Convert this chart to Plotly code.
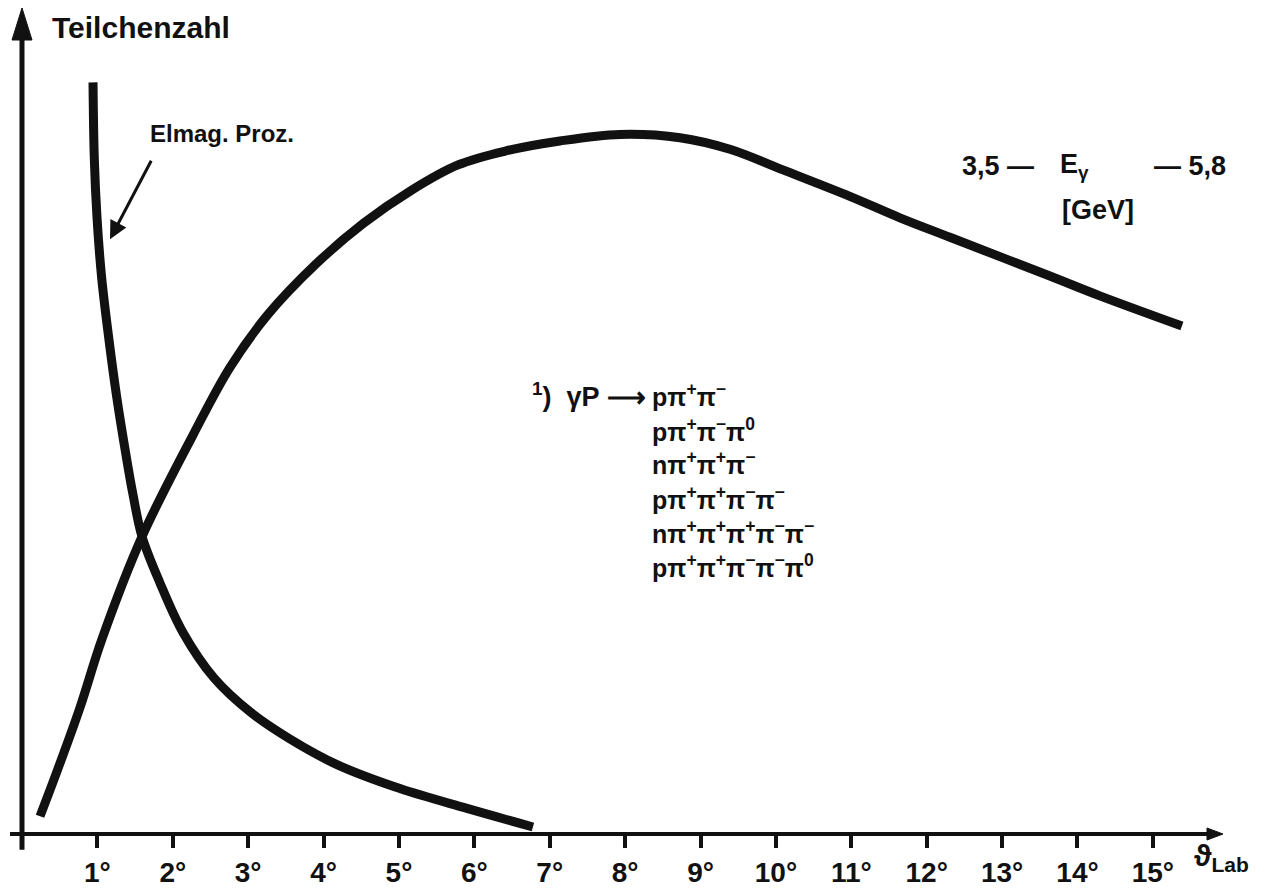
import plotly.graph_objects as go

# ---- data ----
elmag_deg = [0.942, 0.959, 0.995, 1.055, 1.147, 1.253, 1.379, 1.472, 1.592, 1.830, 2.135,
             2.546, 3.037, 3.554, 4.178, 5.013, 5.902, 6.777]
elmag_val = [91.0, 81.8, 74.6, 67.5, 60.3, 53.1, 45.9, 41.1, 36.0, 30.4, 24.4,
             18.9, 14.7, 11.5, 8.4, 5.5, 3.1, 0.85]

hadr_deg = [0.239, 0.477, 0.769, 1.061, 1.592, 2.268, 2.759, 3.263, 3.899, 4.523, 5.159,
            5.782, 6.419, 7.135, 7.931, 8.727, 9.390, 10.093, 10.981, 11.645, 12.308,
            12.971, 13.634, 14.297, 15.385]
hadr_val = [2.15, 7.9, 15.3, 23.6, 36.0, 48.3, 56.5, 62.9, 69.0, 73.9, 77.9,
            81.0, 82.7, 83.9, 84.7, 84.3, 82.9, 80.4, 77.2, 74.6, 72.25,
            69.9, 67.55, 65.15, 61.5]

tick_vals = list(range(1, 16))
tick_text = [f"{v}°" for v in tick_vals]

reaction_rows = [
    "pπ<sup>+</sup>π<sup>−</sup>",
    "pπ<sup>+</sup>π<sup>−</sup>π<sup>0</sup>",
    "nπ<sup>+</sup>π<sup>+</sup>π<sup>−</sup>",
    "pπ<sup>+</sup>π<sup>+</sup>π<sup>−</sup>π<sup>−</sup>",
    "nπ<sup>+</sup>π<sup>+</sup>π<sup>+</sup>π<sup>−</sup>π<sup>−</sup>",
    "pπ<sup>+</sup>π<sup>+</sup>π<sup>−</sup>π<sup>−</sup>π<sup>0</sup>",
]

FONT = "Liberation Sans"
INK = "#111111"

# ---- layout geometry (pixels) ----
W, H = 1273, 896
L, R, T, B = 22, 50, 8, 52
PW, PH = W - L - R, H - T - B
X_MAX = 15.93


def px(x):
    return (x - L) / PW


def py(y):
    return (H - B - y) / PH


def bfont(size):
    return dict(family=FONT, color=INK, size=size, weight="bold")


fig = go.Figure()
for xs, ys in ((elmag_deg, elmag_val), (hadr_deg, hadr_val)):
    fig.add_trace(go.Scatter(x=xs, y=ys, mode="lines",
                             line=dict(color=INK, width=9, shape="spline", smoothing=1.0),
                             hoverinfo="skip", showlegend=False))

shapes = [
    dict(type="line", xref="paper", yref="paper", x0=0, x1=0, y0=py(860), y1=py(30),
         line=dict(color=INK, width=5)),
    dict(type="line", xref="paper", yref="paper", x0=px(10), x1=px(1212), y0=0, y1=0,
         line=dict(color=INK, width=4)),
    dict(type="path", xref="paper", yref="paper", xsizemode="pixel", ysizemode="pixel",
         xanchor=0, yanchor=1, path="M 0 0 L -10 -32 L 10 -32 Z",
         fillcolor=INK, line=dict(color=INK, width=1)),
    dict(type="path", xref="paper", yref="paper", xsizemode="pixel", ysizemode="pixel",
         xanchor=1, yanchor=0, path="M 0 0 L -16 6 L -16 -6 Z",
         fillcolor=INK, line=dict(color=INK, width=1)),
]

ann = []


def text(x, y, s, size, anchor="left"):
    ann.append(dict(x=px(x), y=py(y), xref="paper", yref="paper", text=s, showarrow=False,
                    xanchor=anchor, yanchor="middle", font=bfont(size)))


text(50, 28, "Teilchenzahl", 30)
text(148, 135, "Elmag. Proz.", 24)
ann.append(dict(x=px(110), y=py(242), ax=152 - 110, ay=162 - 242, xref="paper", yref="paper",
                axref="pixel", ayref="pixel", text="", showarrow=True, arrowhead=2,
                arrowsize=1.2, arrowwidth=3, arrowcolor=INK))

text(960, 168, "3,5 —", 27)
text(1058, 168, "E<sub>γ</sub>", 27)
text(1228, 168, "—\u00a05,8", 27, anchor="right")
text(1098, 212, "[GeV]", 27, anchor="center")

row_y = [400, 435, 469, 504, 538, 573]
for s, y in zip(reaction_rows, row_y):
    text(650, y, s, 25)
text(648, 400, "<sup>1</sup>)\u00a0\u00a0γP\u00a0⟶", 27, anchor="right")

text(1192, 868, "ϑ<sub>Lab</sub>", 30)

fig.update_layout(
    width=W, height=H,
    margin=dict(l=L, r=R, t=T, b=B),
    paper_bgcolor="white", plot_bgcolor="white",
    shapes=shapes, annotations=ann,
    xaxis=dict(range=[0, X_MAX], tickvals=tick_vals, ticktext=tick_text,
               showgrid=False, zeroline=False, showline=False,
               ticks="outside", ticklen=13, tickwidth=4, tickcolor=INK,
               tickfont=bfont(28)),
    yaxis=dict(range=[0, 100], showgrid=False, zeroline=False, showline=False,
               showticklabels=False, ticks=""),
)

fig.write_html("out.html")
